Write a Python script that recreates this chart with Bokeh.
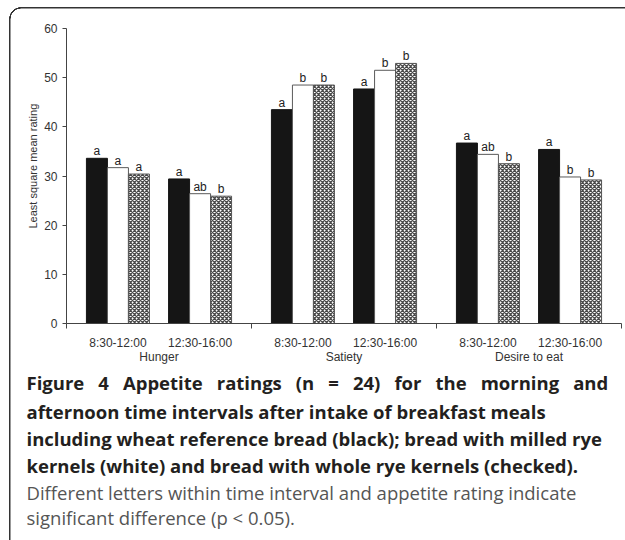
from bokeh.plotting import figure
from bokeh.models import Range1d, FixedTicker, LinearAxis, ColumnDataSource, Title
from bokeh.embed import file_html
from bokeh.resources import INLINE
from bokeh.core.properties import value

# ---------------- data ----------------
ratings = ["Hunger", "Satiety", "Desire to eat"]
intervals = ["8:30-12:00", "12:30-16:00"]
y_ticks = [0, 10, 20, 30, 40, 50, 60]

# order: Hunger 8:30, Hunger 12:30, Satiety 8:30, Satiety 12:30, Desire 8:30, Desire 12:30
wheat = [33.6, 29.4, 43.5, 47.7, 36.7, 35.4]
milled = [31.7, 26.4, 48.5, 51.5, 34.4, 29.8]
whole = [30.4, 25.9, 48.5, 52.9, 32.5, 29.2]

wheat_letters = ["a", "a", "a", "a", "a", "a"]
milled_letters = ["a", "ab", "b", "b", "ab", "b"]
whole_letters = ["a", "b", "b", "b", "b", "b"]

caption_bold = [
    "Figure 4 Appetite ratings (n = 24) for the morning and",
    "afternoon time intervals after intake of breakfast meals",
    "including wheat reference bread (black); bread with milled rye",
    "kernels (white) and bread with whole rye kernels (checked).",
]
caption_regular = [
    "Different letters within time interval and appetite rating indicate",
    "significant difference (p < 0.05).",
]

# ---------------- layout ----------------
CL_OFF = 0.222     # cluster offset from group centre
BAR_W = 0.1135     # bar width
CHART_FONT = value("Liberation Sans")
CAP_SIZE = "18.5px"

centers = []
for g in range(len(ratings)):
    for k in range(len(intervals)):
        centers.append(g + 0.5 + (k - 0.5) * 2 * CL_OFF)

p = figure(width=625, height=540,
           x_range=Range1d(0, 3), y_range=Range1d(0, 60),
           output_backend="svg", toolbar_location=None,
           min_border_left=66, min_border_right=4,
           min_border_top=28, min_border_bottom=217)
p.outline_line_color = None
p.grid.visible = False
p.background_fill_color = None
p.border_fill_color = None
# rounded frame around chart and caption (CSS backgrounds behind the transparent canvas)
p.styles = {
    "background-image": ", ".join([
        "linear-gradient(#333333, #333333)",
        "linear-gradient(#333333, #333333)",
        "radial-gradient(circle at 12px 12px, transparent 10.3px, #333333 10.6px, "
        "#333333 11.7px, transparent 12px)",
    ]),
    "background-position": "21px 7px, 9px 19px, 9px 7px",
    "background-size": "700px 1.5px, 1.5px 700px, 12px 12px",
    "background-repeat": "no-repeat",
    "vertical-align": "top",
}

series = [
    (wheat, wheat_letters, -1, dict(fill_color="#151515", line_color="#151515")),
    (milled, milled_letters, 0, dict(fill_color="white", line_color="#5a5a5a")),
    (whole, whole_letters, 1, dict(fill_color="white", line_color="#555555",
                                   hatch_pattern="diagonal_cross", hatch_color="#4a4a4a",
                                   hatch_scale=4, hatch_weight=1.3)),
]
for vals, letters, idx, style in series:
    xs = [c + idx * BAR_W for c in centers]
    src = ColumnDataSource(dict(x=xs, top=vals, lab=letters))
    p.vbar(x="x", top="top", bottom=0, width=BAR_W, source=src, line_width=1, **style)
    p.text(x="x", y="top", text="lab", source=src, text_align="center",
           text_baseline="alphabetic", y_offset=-7, text_font=CHART_FONT,
           text_font_size="12px", text_color="#222222")

# y axis
ya = p.yaxis[0]
ya.ticker = FixedTicker(ticks=y_ticks)
ya.major_label_text_font = "Liberation Sans"
ya.major_label_text_font_size = "12px"
ya.major_label_text_color = "#333333"
ya.major_label_standoff = 5
ya.major_tick_out = 4
ya.major_tick_in = 0
ya.minor_tick_out = 0
ya.minor_tick_in = 0
ya.axis_line_color = "#444444"
ya.major_tick_line_color = "#444444"

p.add_layout(Title(text="Least square mean rating", align="left", offset=95,
                   standoff=6, text_font="Liberation Sans", text_font_size="11px",
                   text_font_style="normal", text_color="#333333"), "left")

# x axis: interval labels, separator ticks between appetite ratings
xa = p.xaxis[0]
xa.ticker = FixedTicker(ticks=centers, minor_ticks=[0, 1, 2, 3])
xa.major_label_overrides = {c: intervals[i % 2] for i, c in enumerate(centers)}
xa.major_tick_out = 0
xa.major_tick_in = 0
xa.minor_tick_out = 5
xa.minor_tick_in = 0
xa.minor_tick_line_color = "#444444"
xa.axis_line_color = "#444444"
xa.major_label_text_font = "Liberation Sans"
xa.major_label_text_font_size = "12px"
xa.major_label_text_color = "#333333"
xa.major_label_standoff = 7

group_centers = [g + 0.5 for g in range(len(ratings))]
xa2 = LinearAxis(ticker=FixedTicker(ticks=group_centers),
                 major_label_overrides={c: ratings[i] for i, c in enumerate(group_centers)})
xa2.axis_line_color = None
xa2.major_tick_out = 0
xa2.major_tick_in = 0
xa2.minor_tick_out = 0
xa2.minor_tick_in = 0
xa2.major_label_text_font = "Liberation Sans"
xa2.major_label_text_font_size = "12px"
xa2.major_label_text_color = "#333333"
xa2.major_label_standoff = -3
p.add_layout(xa2, "below")

# empty spacer axis between the chart labels and the caption
spacer = LinearAxis(ticker=FixedTicker(ticks=[]), axis_line_color=None,
                    major_tick_out=7, major_tick_in=0, minor_tick_out=0, minor_tick_in=0,
                    major_tick_line_color=None, minor_tick_line_color=None,
                    major_label_standoff=0)
p.add_layout(spacer, "below")

# caption as stacked titles below the chart
standoffs = [3, 0, 0, 0, 0, -3]
cap_lines = [(t, "bold", "#231f20") for t in caption_bold] + \
            [(t, "normal", "#555555") for t in caption_regular]
for i, (t, style, col) in enumerate(cap_lines):
    if i == 0:
        t = t.replace(" ", " \u2002")   # first line is justified in the original
    p.add_layout(Title(text=t, align="left", offset=-40, standoff=standoffs[i],
                       text_font="Open Sans", text_font_size=CAP_SIZE,
                       text_font_style=style, text_color=col), "below")

open("out.html", "w").write(file_html(p, INLINE))
